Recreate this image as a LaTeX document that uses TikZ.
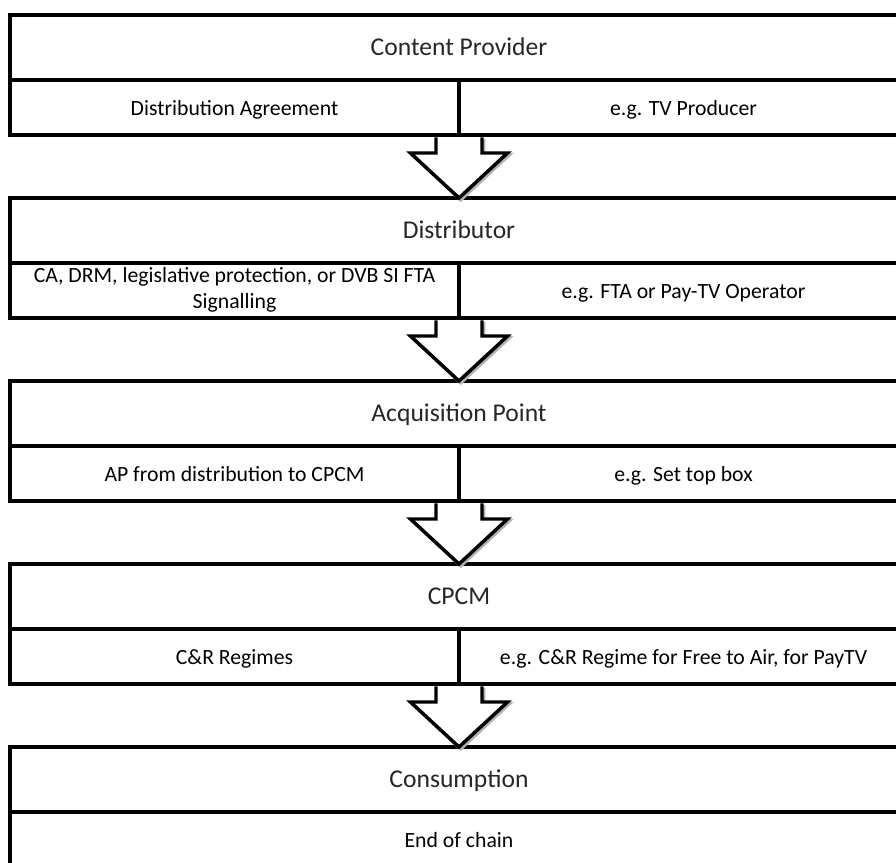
\documentclass[tikz,border=0pt]{standalone}
\usepackage{fontspec}
\setmainfont{Carlito}
\usetikzlibrary{positioning,calc}

\newcommand\boxstrut{\rule[-0.2em]{0pt}{1.15em}}
\newcommand\headstrut{\rule[-0.2em]{0pt}{1.05em}}

\tikzset{
  headbox/.style={draw, line width=3.4pt, outer sep=0pt, inner sep=0pt,
    minimum width=673.5pt, minimum height=48.75pt,
    font=\fontsize{19.2}{23}\selectfont, text=black!85,
    execute at begin node=\headstrut},
  cellbox/.style={draw, line width=3.4pt, outer sep=0pt, inner sep=0pt,
    minimum width=336.75pt, minimum height=41.25pt, align=center,
    font=\fontsize{16.3}{19.5}\selectfont,
    execute at begin node=\boxstrut, execute at end node=\boxstrut},
  hollow/.style={draw, line width=2.6pt, fill=white, line join=miter,
    preaction={draw=black!30, line width=2.6pt,
      transform canvas={shift={(1.3pt,-1.3pt)}}}},
}

\begin{document}
\begin{tikzpicture}
	% page size of the reference
	\useasboundingbox (0,0) rectangle (672pt,-647.25pt);
	\clip (0,0) rectangle (672pt,-647.25pt);
	% four stages with a title row and two cells
	\foreach \i/\name/\lft/\rgt in {
			1/Content Provider/Distribution Agreement/e.g. TV Producer,
			2/Distributor/{CA, DRM, legislative protection, or DVB SI FTA\\Signalling}/e.g. FTA or Pay-TV Operator,
			3/Acquisition Point/AP from distribution to CPCM/e.g. Set top box,
			4/CPCM/C\&R Regimes/{e.g. C\&R Regime for Free to Air, for PayTV}} {
			\pgfmathsetmacro\ytop{-11.25-(\i-1)*137.25}
			\node[headbox, anchor=north] (t\i) at (344.25pt, \ytop pt) {\name};
			\node[cellbox, anchor=north east] (l\i) at (t\i.south) {\lft};
			\node[cellbox, anchor=north west] (r\i) at (t\i.south) {\rgt};
		}
	% last stage
	\node[headbox, anchor=north] (t5) at (344.25pt, -560.25pt) {Consumption};
	\node[cellbox, anchor=north, minimum width=673.5pt] (e5) at (t5.south) {End of chain};
	% hollow arrows between the stages
	\foreach \i in {1, ..., 4} {
			\pgfmathtruncatemacro\j{\i+1}
			\draw[hollow] ($(l\i.south east)+(-17.25pt,-1.7pt)$) -- ($(l\i.south east)+(-17.25pt,-13.5pt)$)
				-- ($(l\i.south east)+(-36.4pt,-13.5pt)$) -- (t\j.north)
				-- ($(l\i.south east)+(36.4pt,-13.5pt)$) -- ($(l\i.south east)+(17.25pt,-13.5pt)$)
				-- ($(l\i.south east)+(17.25pt,-1.7pt)$);
		}
\end{tikzpicture}
\end{document}
